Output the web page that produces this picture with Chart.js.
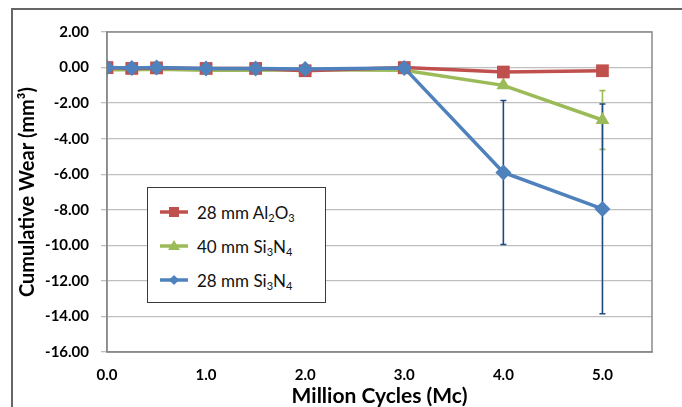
<!DOCTYPE html>
<html>
<head>
<meta charset="utf-8">
<script src="https://cdn.jsdelivr.net/npm/chart.js@4.4.0/dist/chart.umd.min.js"></script>
<style>
    body { margin: 0; background: #fff; }
    #wrap { position: relative; width: 682px; height: 407px; overflow: hidden; }
    #frame { position: absolute; left: 11px; top: 8px; width: 720px; height: 440px; border: 2px solid #666; }
    #chartWear { position: absolute; left: 0; top: 0; }
    #legendBox {
        position: absolute; left: 147px; top: 187px; width: 177px; height: 114px;
        border: 1.5px solid #3a3a3a; background: #fff;
        font-family: Lato, "Open Sans", sans-serif; font-size: 17px; color: #111;
    }
    .lgRow { position: absolute; left: 12px; height: 20px; display: flex; align-items: center; }
    .lgRow svg { margin-right: 9px; }
    .lgRow sub { font-size: 11px; vertical-align: -3px; line-height: 0; }
</style>
</head>
<body>
<div id="wrap">
    <div id="frame"></div>
    <canvas id="chartWear" width="682" height="407"></canvas>
    <div id="legendBox"></div>
</div>
<script>
    // data
    var cycles = [0, 0.25, 0.5, 1, 1.5, 2, 3, 4, 5];
    var xTicks = [0, 1, 2, 3, 4, 5];

    var wear_Al2O3_28 = [0, -0.05, -0.02, -0.05, -0.05, -0.18, 0, -0.25, -0.18];
    var err_Al2O3_28 = [0, 0, 0, 0, 0, 0, 0, 0, 0];

    var wear_Si3N4_40 = [-0.12, -0.12, -0.1, -0.15, -0.15, -0.12, -0.15, -1.0, -2.95];
    var err_Si3N4_40 = [0, 0, 0, 0, 0, 0, 0, 0.1, 1.65];

    var wear_Si3N4_28 = [0, -0.03, 0, -0.05, -0.05, -0.08, -0.02, -5.9, -7.95];
    var err_Si3N4_28 = [0, 0, 0, 0, 0, 0, 0, 4.05, 5.9];

    var arrLabel = ['28 mm Al<sub>2</sub>O<sub>3</sub>', '40 mm Si<sub>3</sub>N<sub>4</sub>', '28 mm Si<sub>3</sub>N<sub>4</sub>'];
    var arrColor = ['#C0504D', '#9BBB59', '#4F81BD'];
    var arrErrColor = ['#C0504D', '#9BBB59', '#1F497D'];
    var arrPoint = ['rect', 'triangle', 'rectRot'];
    var arrRadius = [9, 8, 8];
    var arrOrder = [1, 2, 0];

    var fontName = 'Lato, "Open Sans", sans-serif';

    function toPoints(vals) {
        return vals.map(function (v, i) { return { x: cycles[i], y: v }; });
    }

    // error bars, drawn under the lines
    const errorBars = {
        id: 'errorBars',
        beforeDatasetsDraw: function (chart) {
            const ctx = chart.ctx;
            const xs = chart.scales.x, ys = chart.scales.y;
            chart.data.datasets.forEach(function (ds) {
                if (!ds.errors) return;
                ctx.save();
                ctx.strokeStyle = ds.errorColor;
                ctx.lineWidth = 1.6;
                ds.data.forEach(function (p, i) {
                    const e = ds.errors[i];
                    if (!e) return;
                    const x = xs.getPixelForValue(p.x);
                    const y1 = ys.getPixelForValue(p.y + e);
                    const y2 = ys.getPixelForValue(p.y - e);
                    ctx.beginPath();
                    ctx.moveTo(x, y1); ctx.lineTo(x, y2);
                    ctx.moveTo(x - 3, y1); ctx.lineTo(x + 3, y1);
                    ctx.moveTo(x - 3, y2); ctx.lineTo(x + 3, y2);
                    ctx.stroke();
                });
                ctx.restore();
            });
        }
    };

    // gray box round the plot area
    const plotBorder = {
        id: 'plotBorder',
        beforeDatasetsDraw: function (chart) {
            const a = chart.chartArea;
            const ctx = chart.ctx;
            ctx.save();
            ctx.strokeStyle = '#8a8a8a';
            ctx.lineWidth = 1.5;
            ctx.strokeRect(a.left, a.top, a.right - a.left, a.bottom - a.top);
            ctx.restore();
        }
    };

    var dic_Wear = [
        [wear_Al2O3_28, err_Al2O3_28],
        [wear_Si3N4_40, err_Si3N4_40],
        [wear_Si3N4_28, err_Si3N4_28]
    ];

    let objDatasets = [];
    for (let i = 0; i < dic_Wear.length; i++) {
        objDatasets.push({
            label: arrLabel[i],
            data: toPoints(dic_Wear[i][0]),
            errors: dic_Wear[i][1],
            errorColor: arrErrColor[i],
            borderColor: arrColor[i],
            backgroundColor: arrColor[i],
            borderWidth: 3.5,
            pointStyle: arrPoint[i],
            pointRadius: arrRadius[i],
            pointBorderWidth: 0,
            order: arrOrder[i],
            tension: 0
        });
    }

    let ctx = document.getElementById('chartWear').getContext('2d');
    let wearChart = new Chart(ctx, {
        type: 'line',
        data: { datasets: objDatasets },
        plugins: [errorBars, plotBorder],
        options: {
            responsive: false,
            animation: false,
            layout: { padding: { left: 10, top: 32, right: 30, bottom: 0 } },
            plugins: {
                legend: { display: false },
                tooltip: { enabled: false }
            },
            scales: {
                x: {
                    type: 'linear',
                    min: 0,
                    max: 5.5,
                    afterFit: function (s) { s.height = 55; },
                    afterBuildTicks: function (s) { s.ticks = xTicks.map(function (v) { return { value: v }; }); },
                    ticks: {
                        callback: function (v) { return Number(v).toFixed(1); },
                        font: { family: fontName, size: 15, weight: 'bold' },
                        color: '#000',
                        padding: 14,
                        maxRotation: 0
                    },
                    grid: { display: false, drawTicks: false },
                    border: { color: '#8a8a8a', width: 1.5 },
                    title: {
                        display: true,
                        text: 'Million Cycles (Mc)',
                        font: { family: fontName, size: 21, weight: 'bold', lineHeight: 1 },
                        padding: 0,
                        color: '#000'
                    }
                },
                y: {
                    min: -16,
                    max: 2,
                    afterFit: function (s) { s.width = 97; },
                    ticks: {
                        stepSize: 2,
                        callback: function (v) { return Number(v).toFixed(2); },
                        font: { family: fontName, size: 15, weight: 'bold' },
                        color: '#000',
                        padding: 12
                    },
                    grid: { color: '#BFBFBF', lineWidth: 1.3, tickLength: 6 },
                    border: { color: '#8a8a8a', width: 1.5 },
                    title: {
                        display: true,
                        text: 'Cumulative Wear (mm³)',
                        font: { family: fontName, size: 20, weight: 'bold' },
                        padding: { top: 6 },
                        color: '#000'
                    }
                }
            }
        }
    });

    // legend with subscripts
    function markerSvg(style, color) {
        var m = '';
        if (style === 'rect') m = '<rect x="9" y="3" width="10" height="10" fill="' + color + '"/>';
        if (style === 'triangle') m = '<polygon points="14,2 20,12 8,12" fill="' + color + '"/>';
        if (style === 'rectRot') m = '<polygon points="14,3 19,8 14,13 9,8" fill="' + color + '"/>';
        return '<svg width="28" height="16"><line x1="0" y1="8" x2="28" y2="8" stroke="' + color + '" stroke-width="3.5"/>' + m + '</svg>';
    }
    var legendBox = document.getElementById('legendBox');
    var rowTop = [14, 48, 82];
    for (let i = 0; i < arrLabel.length; i++) {
        let row = document.createElement('div');
        row.className = 'lgRow';
        row.style.top = rowTop[i] + 'px';
        row.innerHTML = markerSvg(arrPoint[i], arrColor[i]) + '<span>' + arrLabel[i] + '</span>';
        legendBox.appendChild(row);
    }
</script>
</body>
</html>
